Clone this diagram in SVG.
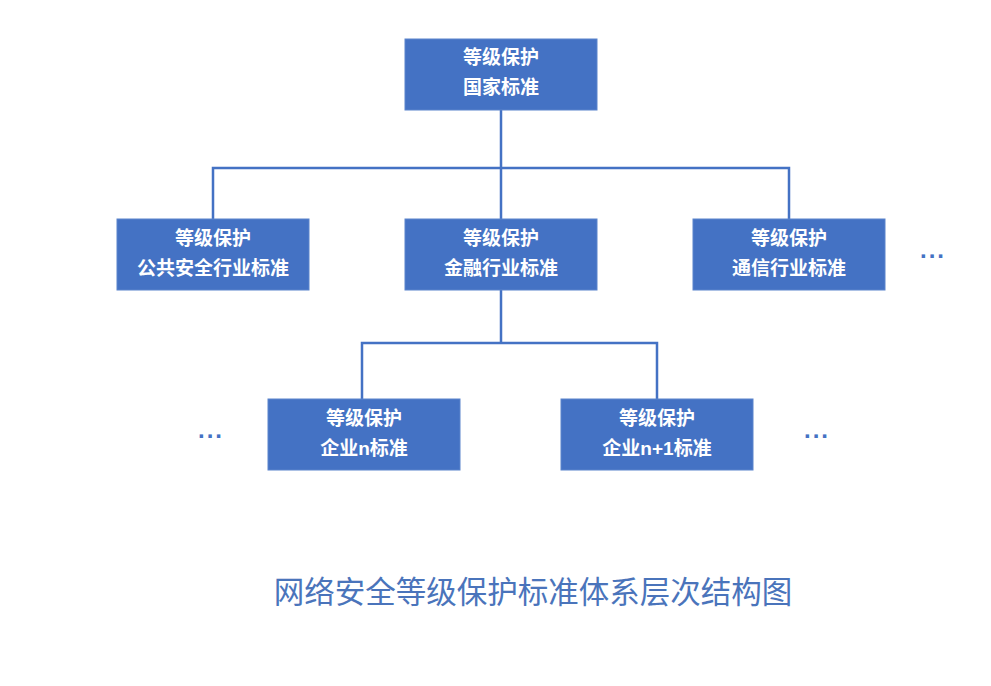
<svg xmlns="http://www.w3.org/2000/svg" width="991" height="686" viewBox="0 0 991 686">
<style>
.box{fill:#4472C4;stroke:#5b84cc;stroke-width:1}
.t{font-family:"Liberation Sans","Noto Sans CJK SC",sans-serif;font-size:19px;font-weight:bold;fill:#ffffff;text-anchor:middle}
.ln{fill:none;stroke:#4472C4;stroke-width:2.5}
.dots{font-family:"Liberation Sans",sans-serif;font-size:24px;font-weight:bold;fill:#4472C4;letter-spacing:2px}
.title{font-family:"Noto Sans CJK SC",sans-serif;font-size:30.5px;fill:#4a74bb;text-anchor:middle}
</style>
<rect width="991" height="686" fill="#ffffff"/>
<g id="connectors">
<path class="ln" d="M501 110 V219 M213 219 V168 H789 V219"/>
<path class="ln" d="M501 290 V343 M362 399 V343 H657 V399"/>
</g>
<g id="n_national"><rect class="box" x="405" y="39" width="192" height="71"/><text class="t" x="501" y="64">等级保护</text><text class="t" x="501" y="94">国家标准</text></g>
<g id="n_public"><rect class="box" x="117" y="219" width="192" height="71"/><text class="t" x="213" y="245">等级保护</text><text class="t" x="213" y="275">公共安全行业标准</text></g>
<g id="n_finance"><rect class="box" x="405" y="219" width="192" height="71"/><text class="t" x="501" y="245">等级保护</text><text class="t" x="501" y="275">金融行业标准</text></g>
<g id="n_telecom"><rect class="box" x="693" y="219" width="192" height="71"/><text class="t" x="789" y="245">等级保护</text><text class="t" x="789" y="275">通信行业标准</text></g>
<g id="n_ent_n"><rect class="box" x="268" y="399" width="192" height="71"/><text class="t" x="364" y="425">等级保护</text><text class="t" x="364" y="455">企业n标准</text></g>
<g id="n_ent_n1"><rect class="box" x="561" y="399" width="192" height="71"/><text class="t" x="657" y="425">等级保护</text><text class="t" x="657" y="455">企业n+1标准</text></g>
<g id="dots">
<text class="dots" x="920" y="258">...</text>
<text class="dots" x="198" y="438">...</text>
<text class="dots" x="804" y="438">...</text>
</g>
<text class="title" x="533" y="603">网络安全等级保护标准体系层次结构图</text>
</svg>
